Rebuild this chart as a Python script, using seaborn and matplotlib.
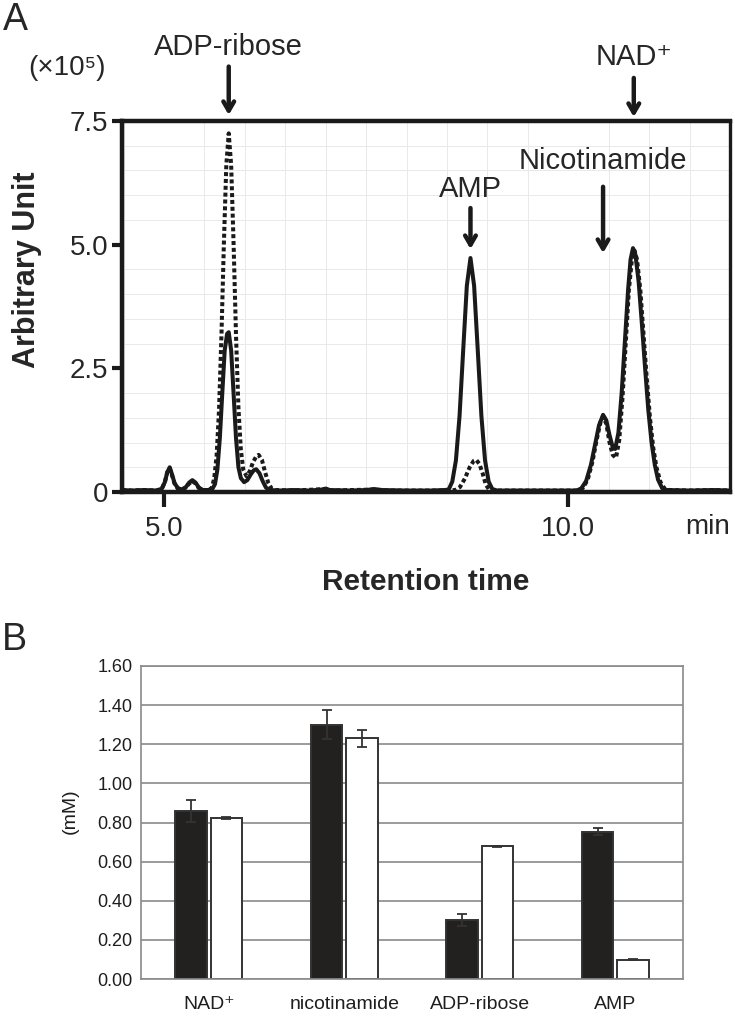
import numpy as np
import pandas as pd
import matplotlib
matplotlib.use("Agg")
import matplotlib.pyplot as plt
import seaborn as sns

# --- Panel A: HPLC traces (retention time in min, signal in x10^5) ---
solid_time = [4.48, 4.6, 4.75, 4.9, 4.97, 5.01, 5.04, 5.07, 5.1, 5.13, 5.17, 5.22,
              5.27, 5.31, 5.35, 5.39, 5.43, 5.48, 5.55, 5.6, 5.63, 5.66, 5.69, 5.72,
              5.75, 5.78, 5.8, 5.83, 5.86, 5.89, 5.92, 5.95, 5.99, 6.03, 6.07, 6.11,
              6.14, 6.18, 6.22, 6.26, 6.3, 6.45, 6.6, 6.8, 6.95, 7.0, 7.05, 7.3,
              7.5, 7.6, 7.7, 8.0, 8.3, 8.47, 8.52, 8.565, 8.61, 8.655, 8.7, 8.745,
              8.79, 8.835, 8.88, 8.925, 8.97, 9.015, 9.06, 9.12, 9.5, 9.8, 10.1, 10.16,
              10.22, 10.28, 10.33, 10.38, 10.43, 10.47, 10.51, 10.55, 10.58, 10.62, 10.66, 10.7,
              10.74, 10.77, 10.8, 10.83, 10.87, 10.91, 10.95, 10.99, 11.03, 11.07, 11.11, 11.16,
              11.22, 11.5, 11.8, 12.0]
solid_signal = [0.04, 0.03, 0.04, 0.03, 0.06, 0.2, 0.4, 0.5, 0.35, 0.18, 0.08, 0.05,
                0.1, 0.19, 0.24, 0.19, 0.09, 0.04, 0.04, 0.07, 0.16, 0.46, 1.09, 1.99,
                2.86, 3.2, 3.23, 2.86, 1.99, 1.09, 0.5, 0.28, 0.2, 0.24, 0.35, 0.44,
                0.46, 0.38, 0.22, 0.09, 0.04, 0.03, 0.04, 0.03, 0.05, 0.07, 0.04, 0.03,
                0.04, 0.06, 0.04, 0.03, 0.03, 0.04, 0.05, 0.21, 0.64, 1.54, 2.87, 4.17,
                4.73, 4.17, 2.87, 1.54, 0.64, 0.21, 0.06, 0.03, 0.03, 0.03, 0.03, 0.07,
                0.22, 0.55, 0.95, 1.35, 1.56, 1.45, 1.15, 0.9, 0.87, 1.2, 2.0, 3.05,
                4.1, 4.7, 4.93, 4.8, 4.25, 3.4, 2.5, 1.65, 1.0, 0.55, 0.25, 0.08,
                0.04, 0.03, 0.04, 0.03]

dotted_time = [4.48, 4.6, 4.75, 4.9, 4.97, 5.01, 5.04, 5.07, 5.1, 5.13, 5.17, 5.22,
               5.27, 5.31, 5.35, 5.39, 5.43, 5.48, 5.55, 5.59, 5.62, 5.65, 5.68, 5.71,
               5.74, 5.77, 5.8, 5.83, 5.86, 5.89, 5.92, 5.95, 5.98, 6.02, 6.06, 6.1,
               6.14, 6.17, 6.21, 6.25, 6.29, 6.33, 6.38, 6.6, 7.0, 7.05, 7.6, 7.7,
               8.4, 8.6, 8.66, 8.72, 8.78, 8.83, 8.86, 8.9, 8.94, 8.98, 9.02, 9.1,
               10.1, 10.18, 10.24, 10.3, 10.35, 10.4, 10.43, 10.47, 10.51, 10.55, 10.59, 10.63,
               10.67, 10.71, 10.75, 10.79, 10.82, 10.85, 10.89, 10.93, 10.97, 11.01, 11.05, 11.09,
               11.14, 11.19, 11.25, 11.5, 11.8, 12.0]
dotted_signal = [0.04, 0.03, 0.04, 0.03, 0.06, 0.2, 0.4, 0.48, 0.33, 0.17, 0.07, 0.05,
                 0.09, 0.17, 0.22, 0.17, 0.08, 0.04, 0.04, 0.08, 0.27, 0.73, 1.66, 3.17,
                 5.02, 6.61, 7.25, 6.61, 5.02, 3.17, 1.7, 0.85, 0.45, 0.32, 0.42, 0.6,
                 0.72, 0.75, 0.65, 0.4, 0.18, 0.07, 0.04, 0.03, 0.06, 0.03, 0.05, 0.03,
                 0.03, 0.04, 0.1, 0.27, 0.5, 0.63, 0.65, 0.57, 0.38, 0.15, 0.05, 0.03,
                 0.03, 0.08, 0.25, 0.62, 1.05, 1.42, 1.52, 1.38, 1.0, 0.75, 0.69, 1.05,
                 1.9, 3.0, 4.1, 4.75, 4.88, 4.7, 4.1, 3.2, 2.3, 1.5, 0.9, 0.5,
                 0.2, 0.07, 0.04, 0.03, 0.04, 0.03]

# --- Panel B: concentrations (mM) ---
compounds = ["NAD\u207a", "nicotinamide", "ADP-ribose", "AMP"]
black_mean = [0.86, 1.30, 0.30, 0.754]
black_err = [0.055, 0.075, 0.03, 0.016]
white_mean = [0.824, 1.23, 0.678, 0.098]
white_err = [0.005, 0.043, 0.003, 0.003]

sns.set_theme(style="white")
plt.rcParams["font.family"] = ["Liberation Sans", "DejaVu Sans"]

fig = plt.figure(figsize=(7.35, 10.21), dpi=100)

# ================= Panel A =================
axA = fig.add_axes([0.166, 0.5181, 0.8272, 0.3634])
traces = pd.DataFrame({
    "time": solid_time + dotted_time,
    "signal": solid_signal + dotted_signal,
    "trace": ["solid"] * len(solid_time) + ["dotted"] * len(dotted_time),
})
sns.lineplot(data=traces, x="time", y="signal", hue="trace", style="trace",
             palette={"solid": "#1a1a1a", "dotted": "#1a1a1a"},
             dashes={"solid": "", "dotted": (1, 0.7)},
             estimator=None, sort=False, linewidth=2.9, legend=False, ax=axA)

axA.set_xlim(4.48, 12.0)
axA.set_ylim(0, 7.5)
axA.set_xticks(np.arange(4.5, 12.01, 0.5), minor=True)
axA.set_yticks(np.arange(0, 7.51, 0.5), minor=True)
axA.grid(which="minor", color="#e9e9e9", linewidth=0.7)
axA.set_axisbelow(True)
axA.set_xticks([5.0, 10.0])
axA.set_xticklabels(["5.0", "10.0"])
axA.set_yticks([0, 2.5, 5.0, 7.5])
axA.set_yticklabels(["0", "2.5", "5.0", "7.5"])
axA.tick_params(which="minor", length=0)
axA.tick_params(axis="y", which="major", direction="out", length=7, width=3,
                labelsize=20, pad=3, left=True, color="#1a1a1a")
axA.tick_params(axis="x", which="major", direction="out", length=11, width=3,
                labelsize=20, pad=6, bottom=True, color="#1a1a1a")
for side in ["left", "top", "bottom"]:
    axA.spines[side].set_linewidth(3.2)
    axA.spines[side].set_color("#1a1a1a")
axA.spines["right"].set_linewidth(2.4)
axA.spines["right"].set_color("#1a1a1a")
axA.set_xlabel("Retention time", fontsize=21.5, fontweight="bold")
axA.set_ylabel("Arbitrary Unit", fontsize=22, fontweight="bold")
axA.xaxis.set_label_coords(0.5, -0.205)
axA.yaxis.set_label_coords(-0.132, 0.6)
axA.text(11.72, -0.06, "min", transform=axA.get_xaxis_transform(), fontsize=20,
         ha="center", va="top")

arrow_style = dict(arrowstyle="->,head_length=0.55,head_width=0.32",
                   color="#1a1a1a", lw=3.2, shrinkA=0, shrinkB=0)
peak_labels = [
    ("ADP-ribose", 5.80, 8.99, 8.60, 7.62),
    ("NAD\u207a", 10.81, 8.79, 8.37, 7.58),
    ("AMP", 8.79, 6.12, 5.74, 4.91),
    ("Nicotinamide", 10.43, 6.70, 6.17, 4.83),
]
for label, x, ytext, ytop, ytip in peak_labels:
    axA.annotate("", xy=(x, ytip), xytext=(x, ytop), arrowprops=arrow_style,
                 annotation_clip=False)
    axA.text(x, ytext, label, ha="center", va="center", fontsize=21, clip_on=False)

fig.text(67 / 735, 1 - 68 / 1021, "(\u00d710\u2075)", fontsize=20, ha="center", va="center")
fig.text(15 / 735, 1 - 20 / 1021, "A", fontsize=27, ha="center", va="center")

# ================= Panel B =================
axB = fig.add_axes([0.1918, 0.0411, 0.7374, 0.3066])
bars = pd.DataFrame({
    "compound": compounds * 2,
    "value": black_mean + white_mean,
    "group": ["black"] * 4 + ["white"] * 4,
})
sns.barplot(data=bars, x="compound", y="value", hue="group",
            palette={"black": "#231f20", "white": "#ffffff"},
            width=0.52, gap=0.11, errorbar=None, legend=False,
            edgecolor="#333333", linewidth=1.4, ax=axB)

for container, errs in zip(axB.containers, [black_err, white_err]):
    xs = [p.get_x() + p.get_width() / 2 for p in container]
    ys = [p.get_height() for p in container]
    axB.errorbar(xs, ys, yerr=errs, fmt="none", ecolor="#333333",
                 elinewidth=1.3, capsize=3.5, capthick=1.3, zorder=4)

axB.set_xlim(-0.5, 3.5)
axB.set_ylim(0, 1.6)
yt = np.arange(0, 1.61, 0.2)
axB.set_yticks(yt)
axB.set_yticklabels([f"{v:.2f}" for v in yt])
axB.yaxis.grid(True, color="#8a8a8a", linewidth=1.2)
axB.set_axisbelow(True)
axB.tick_params(axis="both", length=0, labelsize=13, colors="#1e1e1e")
axB.tick_params(axis="y", pad=6)
axB.tick_params(axis="x", pad=12, labelsize=14)
for side in axB.spines.values():
    side.set_color("#8a8a8a")
    side.set_linewidth(1.2)
axB.set_xlabel("")
axB.set_ylabel("(mM)", fontsize=14, color="#1e1e1e")
axB.yaxis.set_label_coords(-0.114, 0.537)
fig.text(14 / 735, 1 - 640 / 1021, "B", fontsize=27, ha="center", va="center")

fig.savefig("out.png", dpi=100)
